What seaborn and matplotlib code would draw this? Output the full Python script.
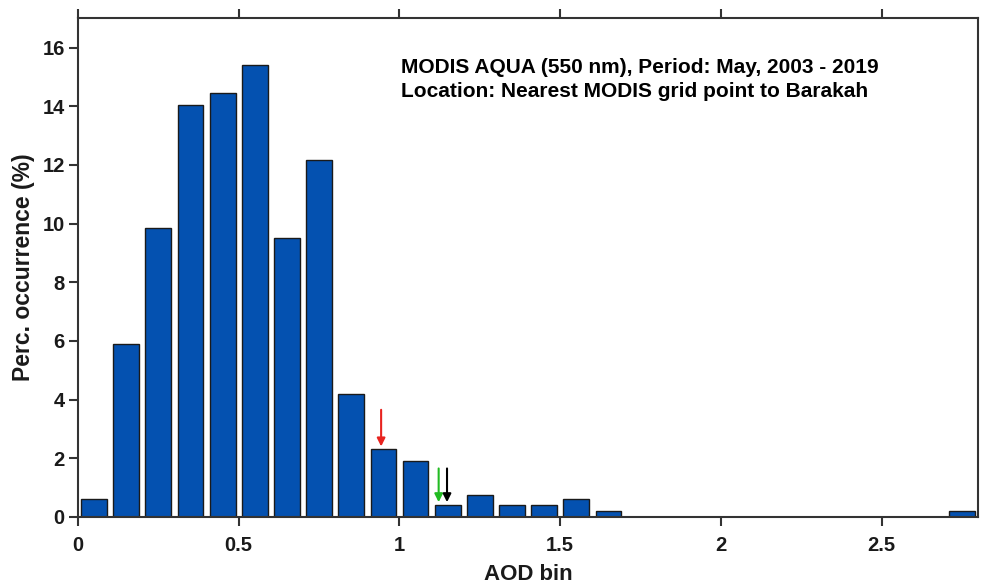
import matplotlib
matplotlib.use("Agg")
import matplotlib.pyplot as plt
import pandas as pd
import seaborn as sns

# AOD bin centers and percentage of occurrence
aod_bins = [0.05, 0.15, 0.25, 0.35, 0.45, 0.55, 0.65, 0.75, 0.85, 0.95,
            1.05, 1.15, 1.25, 1.35, 1.45, 1.55, 1.65, 1.75, 1.85, 1.95,
            2.05, 2.15, 2.25, 2.35, 2.45, 2.55, 2.65, 2.75]
perc = [0.6, 5.9, 9.85, 14.05, 14.45, 15.4, 9.5, 12.15, 4.2, 2.3,
        1.9, 0.4, 0.75, 0.4, 0.4, 0.6, 0.2, 0.0, 0.0, 0.0,
        0.0, 0.0, 0.0, 0.0, 0.0, 0.0, 0.0, 0.2]

# arrow markers: (x, y_start, y_end, colour)
arrows_x = [0.943, 1.122, 1.148]
arrows_y0 = [3.65, 1.65, 1.65]
arrows_y1 = [2.4, 0.5, 0.5]
arrows_c = ["#e8231f", "#22bb22", "black"]

title_lines = ["MODIS AQUA (550 nm), Period: May, 2003 - 2019",
               "Location: Nearest MODIS grid point to Barakah"]

sns.set_theme(style="white")
plt.rcParams["font.family"] = ["Liberation Sans", "DejaVu Sans"]
plt.rcParams["font.weight"] = "bold"
plt.rcParams["text.color"] = "black"

df = pd.DataFrame({"AOD": aod_bins, "Perc": perc})

fig = plt.figure(figsize=(9.81, 5.88), dpi=100)
ax = fig.add_axes([0.0795, 0.121, 0.9175, 0.848])

sns.barplot(
    data=df,
    x="AOD",
    y="Perc",
    native_scale=True,
    width=0.8,
    color="#0451b0",
    saturation=1,
    edgecolor="#1a1a1a",
    linewidth=1.0,
    ax=ax,
)

for x, y0, y1, c in zip(arrows_x, arrows_y0, arrows_y1, arrows_c):
    ax.annotate(
        "", xy=(x, y1), xytext=(x, y0),
        arrowprops=dict(arrowstyle="-|>", color=c, lw=1.5,
                        mutation_scale=12, shrinkA=0, shrinkB=0),
    )

ax.text(1.005, 15.32, title_lines[0], fontsize=15, fontweight="bold",
        va="center", ha="left", color="black")
ax.text(1.005, 14.5, title_lines[1], fontsize=15, fontweight="bold",
        va="center", ha="left", color="black")

ax.set_xlim(0, 2.8)
ax.set_ylim(0, 17)
ax.set_xticks([0, 0.5, 1, 1.5, 2, 2.5])
ax.set_xticklabels(["0", "0.5", "1", "1.5", "2", "2.5"])
ax.set_yticks([0, 2, 4, 6, 8, 10, 12, 14, 16])

ax.set_xlabel("AOD bin", fontsize=16, fontweight="bold", labelpad=7,
              color="#1a1a1a")
ax.set_ylabel("Perc. occurrence (%)", fontsize=16.5, fontweight="bold",
              labelpad=5, color="#1a1a1a")

ax.tick_params(axis="both", which="both", direction="out", length=6.5,
               width=1.5, color="#333333", labelsize=14.5, labelcolor="#1a1a1a",
               top=True, bottom=True, left=True, right=False)
ax.tick_params(axis="x", pad=7)
ax.tick_params(axis="y", pad=3)
for lab in ax.get_xticklabels() + ax.get_yticklabels():
    lab.set_fontweight("bold")

for s in ax.spines.values():
    s.set_linewidth(1.5)
    s.set_color("#333333")

fig.savefig("out.png", dpi=100)
plt.close(fig)
